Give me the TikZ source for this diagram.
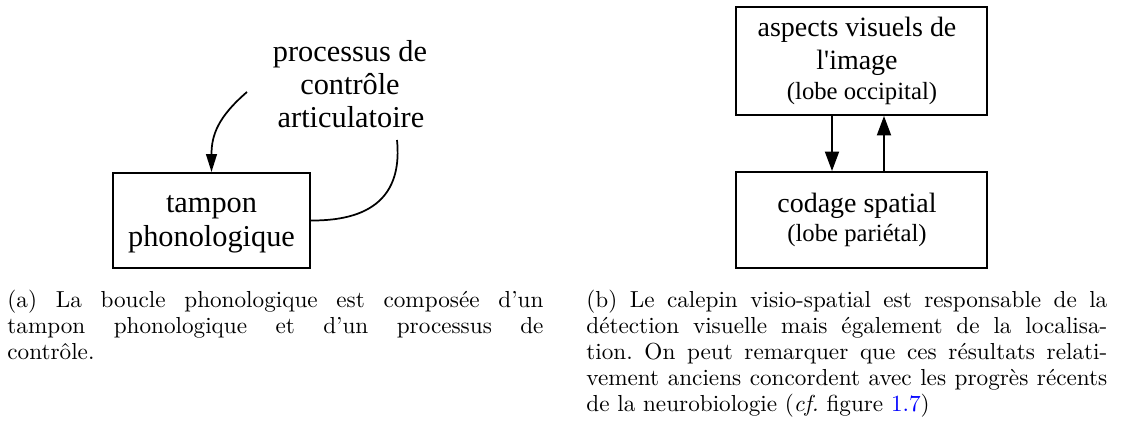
\documentclass[tikz,border=0pt]{standalone}
\usepackage{fontspec}
\newfontfamily\tms{Liberation Serif}
\usetikzlibrary{arrows.meta}
\newlength\pxu
\setlength\pxu{0.4615pt}
\frenchspacing
\begin{document}
\begin{tikzpicture}[x=0.4615pt, y=-0.4615pt,
  box/.style={draw, line width=0.9pt, inner sep=0pt},
  la/.style={anchor=base, inner sep=0pt, font=\tms\fontsize{14}{14}\selectfont},
  lb/.style={anchor=base, inner sep=0pt, font=\tms\fontsize{12.9}{13}\selectfont},
  lbs/.style={anchor=base, inner sep=0pt, font=\tms\fontsize{11.4}{12}\selectfont},
  conn/.style={line width=0.8pt},
  arra/.style={conn, -{Triangle[length=8.3pt,width=5pt]}},
  arrb/.style={conn, -{Triangle[length=9pt,width=6.5pt]}},
  captxt/.style={anchor=north west, inner sep=0pt, align=justify, font=\fontsize{10.7}{12}\selectfont}]
\useasboundingbox (0,0) rectangle (1128,429);

% (a) phonological loop
\node[box, minimum width=197\pxu, minimum height=95\pxu] (tp) at (211.5,220.5) {};
\node[la] (tp1) at (211.5,213) {tampon};
\node[la] (tp2) at (211.5,247) {phonologique};
\node[la] (pc1) at (350,62) {processus de};
\node[la] (pc2) at (350,95) {contrôle};
\node[la] (pc3) at (351,128) {articulatoire};
\coordinate (pcout) at (247,92);
\coordinate (pcin) at (397,140);
\draw[arra] (pcout) .. controls (218,117) and (211.5,135) .. (tp.north);
\draw[conn] (tp.east) .. controls (378,221) and (402,190) .. (pcin);

% (b) visuo-spatial sketchpad
\node[box, minimum width=251\pxu, minimum height=108\pxu] (vi) at (861.5,61) {};
\node[box, minimum width=251\pxu, minimum height=96\pxu] (sp) at (861.5,220) {};
\node[lb] (vi1) at (857,37) {aspects visuels de};
\node[lb] (vi2) at (857,70) {l'image};
\node[lbs] (vi3) at (862,100) {(lobe occipital)};
\node[lb] (sp1) at (857,213) {codage spatial};
\node[lbs] (sp2) at (857,242) {(lobe pariétal)};
\coordinate (dn) at (832,0);
\coordinate (up) at (884,0);
\draw[arrb] (vi.south -| dn) -- (sp.north -| dn);
\draw[arrb] (sp.north -| up) -- (vi.south -| up);

% captions
\node[captxt, text width=247.4pt] (ca) at (7,290) {\noindent (a) La boucle phonologique est composée d'un\linebreak tampon phonologique et d'un processus de\linebreak contrôle.};
\node[captxt, text width=240.4pt] (cb) at (586,290) {\noindent (b) Le calepin visio-spatial est responsable de la\linebreak détection visuelle mais également de la localisa-\linebreak tion. On peut remarquer que ces résultats relati-\linebreak vement anciens concordent avec les progrès récents\linebreak de la neurobiologie (\textit{cf.} figure \textcolor{blue}{1.7})};
\end{tikzpicture}
\end{document}
